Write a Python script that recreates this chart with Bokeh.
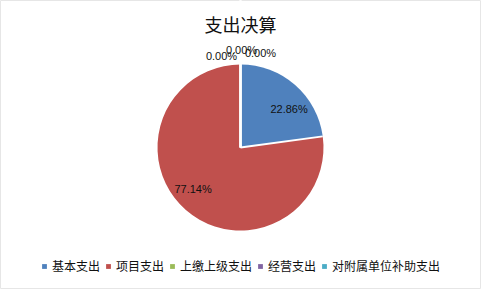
import math
from bokeh.plotting import figure
from bokeh.models import ColumnDataSource, Range1d, Label, Legend, LegendItem
from bokeh.core.properties import value
from bokeh.embed import file_html
from bokeh.resources import INLINE

# ---- data ----
categories = ["基本支出", "项目支出", "上缴上级支出", "经营支出", "对附属单位补助支出"]
percents = [22.86, 77.14, 0.0, 0.0, 0.0]
colors = ["#4F81BD", "#C0504D", "#9BBB59", "#8064A2", "#4BACC6"]
label_texts = ["22.86%", "77.14%", "0.00%", "0.00%", "0.00%"]
title_text = "支出决算"

W, H = 481, 289
CX, CY, R = 240, H - 147, 83

# label placement style: radius factor and nudges (px)
label_r = [0.78, 0.74, 1.12, 1.12, 1.12]
nudge_x = [6, -7, -19, 1, 20]
nudge_y = [-10, 5, -1, 5, 2]

total = sum(percents)
starts, ends, lx, ly, radii = [], [], [], [], []
acc = 0.0
for i, v in enumerate(percents):
    a0 = math.pi / 2 - 2 * math.pi * acc / total
    acc += v
    a1 = math.pi / 2 - 2 * math.pi * acc / total
    starts.append(a1)
    ends.append(a0)
    radii.append(R if v > 0 else 0)
    mid = (a0 + a1) / 2
    lx.append(CX + label_r[i] * R * math.cos(mid) + nudge_x[i])
    ly.append(CY + label_r[i] * R * math.sin(mid) + nudge_y[i])

src = ColumnDataSource(dict(cat=categories, start=starts, end=ends, color=colors,
                            rad=radii, x=[CX] * 5, y=[CY] * 5))
lsrc = ColumnDataSource(dict(x=lx, y=ly, t=label_texts))
# slice boundaries (white separators)
bsrc = ColumnDataSource(dict(x=[CX] * 5, y=[CY] * 5, a=ends, l=radii))

p = figure(width=W, height=H, output_backend="svg", toolbar_location=None,
           x_range=Range1d(0, W), y_range=Range1d(0, H), min_border=0,
           background_fill_color="white", border_fill_color="white")
p.axis.visible = False
p.grid.visible = False
p.outline_line_color = "#e6e6e6"

r = p.wedge(x="x", y="y", radius="rad", radius_units="screen", start_angle="start", end_angle="end",
            fill_color="color", line_color=None, source=src)
p.ray(x="x", y="y", length="l", length_units="screen", angle="a", source=bsrc,
      line_color="white", line_width=2)

p.text(x="x", y="y", text="t", source=lsrc, text_align="center", text_baseline="middle",
       text_font=value("Liberation Sans"), text_font_size="11px", text_color="#111111")

p.add_layout(Label(x=CX, y=H - 23, text=title_text, text_align="center", text_baseline="middle",
                   text_font="Noto Sans CJK SC", text_font_size="18px", text_color="#111111"))

items = [LegendItem(label=c, renderers=[r], index=i) for i, c in enumerate(categories)]
legend = Legend(items=items, orientation="horizontal", location=(41, 15),
                glyph_width=6, glyph_height=6, label_standoff=5, spacing=5,
                label_height=12, padding=0, margin=0,
                label_text_font="Noto Sans CJK SC", label_text_font_size="12px",
                label_text_color="#111111", border_line_color=None,
                background_fill_alpha=0)
p.add_layout(legend)

open("out.html", "w").write(file_html(p, INLINE))
